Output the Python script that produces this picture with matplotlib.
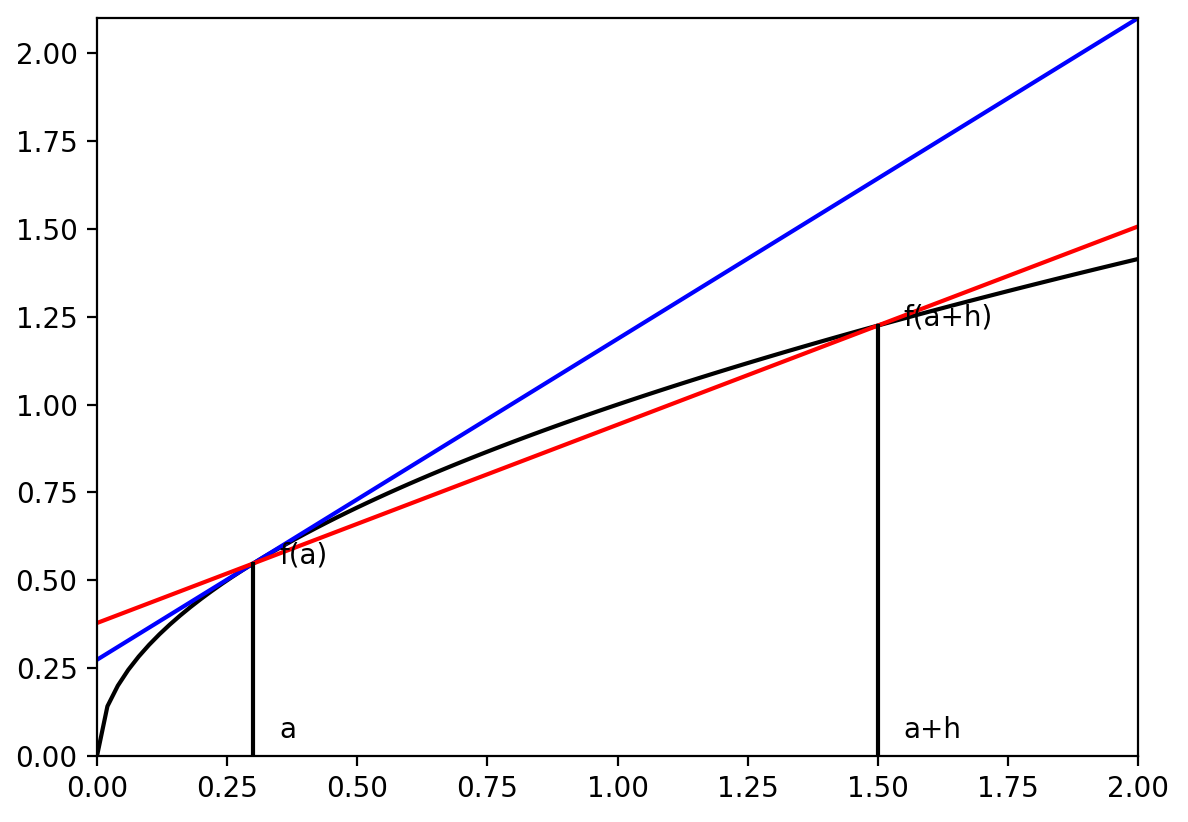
import numpy as np
import matplotlib
matplotlib.use("Agg")
import matplotlib.pyplot as plt

# parameters of the illustrated construction
a = 0.3
h = 1.2
x_samples = np.linspace(0, 2, 101)
labels = ["f(a)", "a", "a+h", "f(a+h)"]

def f(x):
    return np.sqrt(x)

fa = f(a)
fah = f(a + h)
tan_slope = 1 / (2 * np.sqrt(a))
sec_slope = (fah - fa) / h

fig = plt.figure(figsize=(5.94, 4.11), dpi=200)
ax = fig.add_axes([97/1188, 1 - 756/822, (1138 - 97)/1188, (756 - 18)/822])

ax.plot(x_samples, f(x_samples), color="black")
ax.plot(x_samples, fa + tan_slope * (x_samples - a), color="blue")
ax.plot(x_samples, fa + sec_slope * (x_samples - a), color="red")
ax.plot([a, a], [0, fa], color="black")
ax.plot([a + h, a + h], [0, fah], color="black")

ax.text(a + 0.05, fa, labels[0])
ax.text(a + 0.05, 0.05, labels[1])
ax.text(a + h + 0.05, 0.05, labels[2])
ax.text(a + h + 0.05, fah, labels[3])

ax.set_xlim(0, 2)
ax.set_ylim(0, 2.1)
ax.set_yticks(np.arange(0, 2.01, 0.25))

fig.savefig("out.png", dpi=200)
